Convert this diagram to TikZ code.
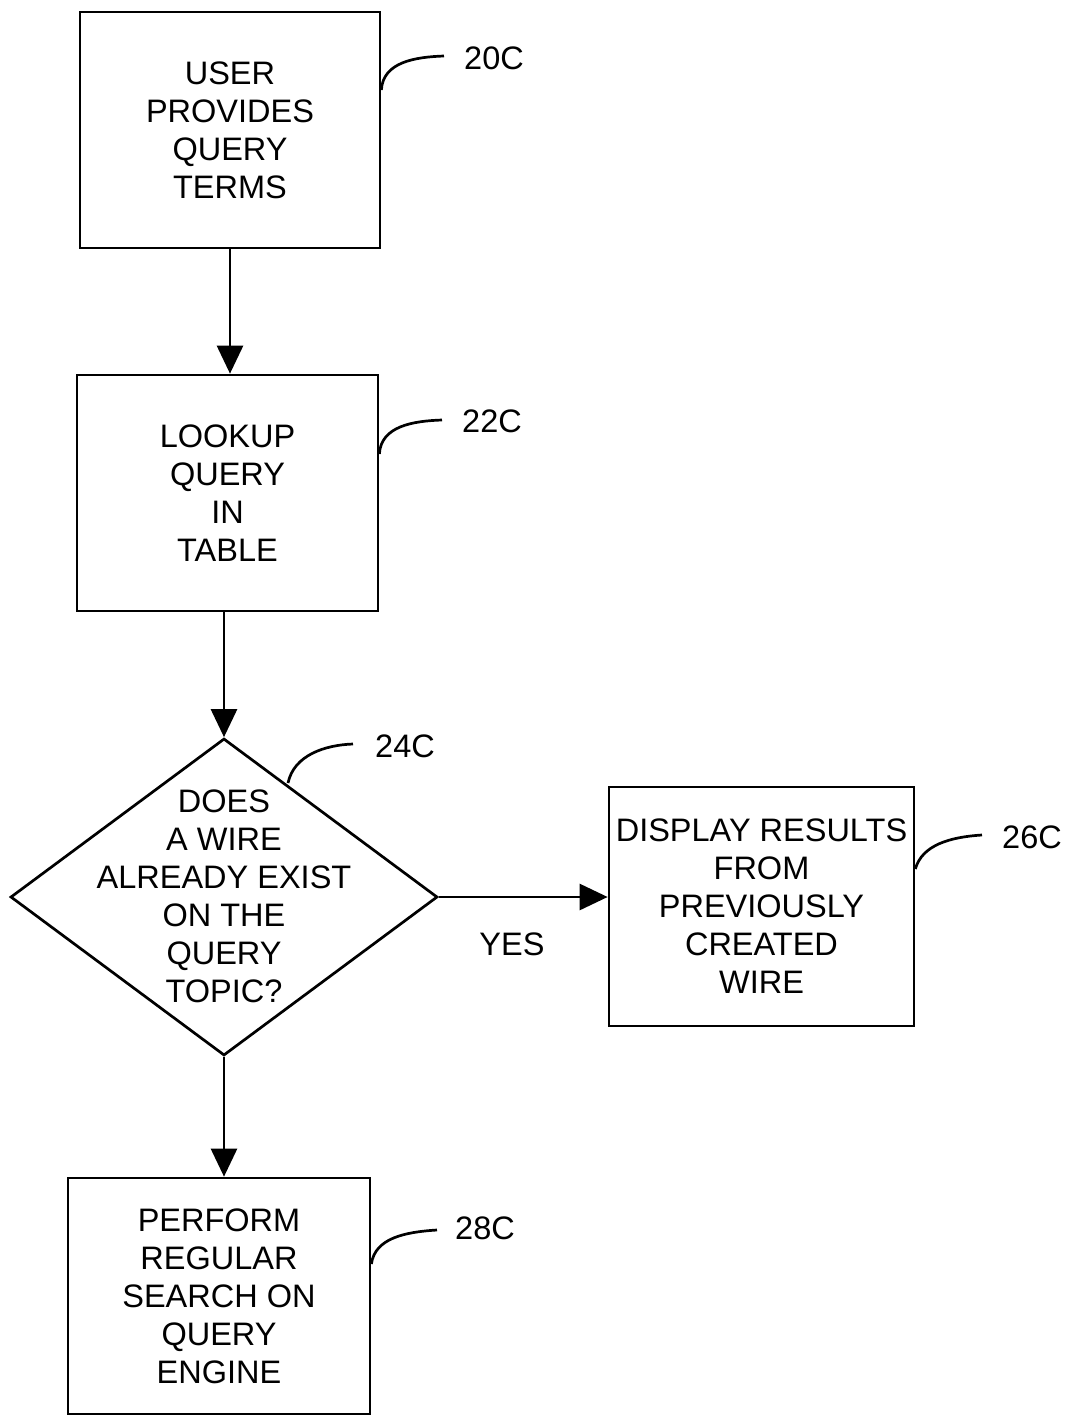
\documentclass[tikz,border=0pt]{standalone}
\usepackage{fontspec}
\setmainfont{Liberation Sans}
\usetikzlibrary{shapes.geometric,arrows.meta}
\begin{document}
\begin{tikzpicture}[x=1pt,y=-1pt,
  every node/.style={font=\fontsize{32.5}{38}\selectfont},
  stepbox/.style={draw,line width=2.7pt,inner sep=0pt,align=center,minimum width=300pt,minimum height=236pt},
  flow/.style={line width=2.7pt,-{Triangle[width=26pt,length=28pt]}},
  leader/.style={line width=2.7pt},
  refnum/.style={inner sep=0pt}]
\useasboundingbox (0,0) rectangle (1068,1416);
\node[stepbox] (b20) at (230,130) {USER\\PROVIDES\\QUERY\\TERMS};
\node[stepbox,minimum width=301pt] (b22) at (227.5,493) {LOOKUP\\QUERY\\IN\\TABLE};
\node[draw,diamond,line width=2.7pt,inner sep=0pt,minimum width=427pt,minimum height=317pt] (d24) at (224,897) {};
\node[align=center,inner sep=0pt] (t24) at (224,896) {DOES\\A WIRE\\ALREADY EXIST\\ON THE\\QUERY\\TOPIC?};
\node[stepbox,minimum width=305pt,minimum height=239pt] (b26) at (761.5,906.5) {DISPLAY RESULTS\\FROM\\PREVIOUSLY\\CREATED\\WIRE};
\node[stepbox,minimum width=302pt] (b28) at (219,1296) {PERFORM\\REGULAR\\SEARCH ON\\QUERY\\ENGINE};
\node[refnum] (l20) at (494,58) {20C};
\node[refnum] (l22) at (492,421) {22C};
\node[refnum] (l24) at (405,746) {24C};
\node[refnum] (l26) at (1032,837) {26C};
\node[refnum] (l28) at (485,1228) {28C};
\node[refnum] (yes) at (512,944) {YES};
\draw[flow] (b20.south) -- (b20.south |- b22.north);
\draw[flow] (b22.south -| d24.north) -- (d24.north);
\draw[flow] (d24.east) -- (d24.east -| b26.west);
\draw[flow] (d24.south) -- (d24.south |- b28.north);
\coordinate (e20) at (444,56);
\coordinate (e22) at (442,420);
\coordinate (e24) at (353,744);
\coordinate (e26) at (982,835);
\coordinate (e28) at (437,1230);
\draw[leader] (b20.east |- 0,90) .. controls (383,62) and (415,57) .. (e20);
\draw[leader] (b22.east |- 0,454) .. controls (381,426) and (413,421) .. (e22);
\draw[leader] (288,783) .. controls (294,755) and (325,745) .. (e24);
\draw[leader] (b26.east |- 0,869) .. controls (922,845) and (950,837) .. (e26);
\draw[leader] (b28.east |- 0,1264) .. controls (375,1238) and (405,1232) .. (e28);
\end{tikzpicture}
\end{document}
